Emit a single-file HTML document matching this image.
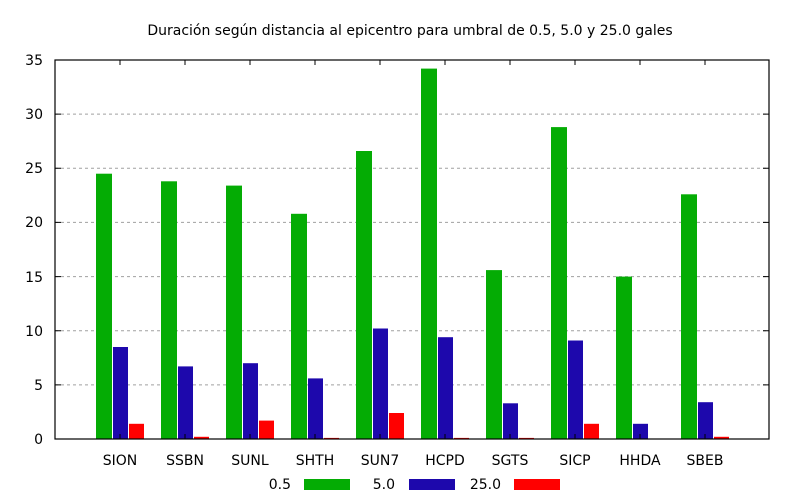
<!DOCTYPE html><html><head><style>body{margin:0;background:#fff}svg{display:block}text{font-family:"DejaVu Sans",sans-serif;font-size:14px;fill:#000}</style></head><body>
<svg width="800" height="500" xmlns="http://www.w3.org/2000/svg">
<text x="410" y="35" text-anchor="middle">Duración según distancia al epicentro para umbral de 0.5, 5.0 y 25.0 gales</text>
<g stroke="#a0a0a0" stroke-dasharray="3,3" stroke-width="1">
<line x1="55" x2="769" y1="384.9" y2="384.9"/><line x1="55" x2="769" y1="330.7" y2="330.7"/><line x1="55" x2="769" y1="276.6" y2="276.6"/><line x1="55" x2="769" y1="222.4" y2="222.4"/><line x1="55" x2="769" y1="168.3" y2="168.3"/><line x1="55" x2="769" y1="114.1" y2="114.1"/>
</g>
<g text-anchor="end">
<text x="43" y="444">0</text><text x="43" y="390">5</text><text x="43" y="336">10</text><text x="43" y="282">15</text><text x="43" y="227">20</text><text x="43" y="173">25</text><text x="43" y="119">30</text><text x="43" y="65">35</text>
</g>
<g fill="#04ac04">
<rect x="96" y="173.7" width="16" height="265.3"/><rect x="161" y="181.3" width="16" height="257.7"/><rect x="226" y="185.6" width="16" height="253.4"/><rect x="291" y="213.8" width="16" height="225.2"/><rect x="356" y="151" width="16" height="288"/><rect x="421" y="68.6" width="16" height="370.4"/><rect x="486" y="270.1" width="16" height="168.9"/><rect x="551" y="127.1" width="16" height="311.9"/><rect x="616" y="276.6" width="16" height="162.4"/><rect x="681" y="194.3" width="16" height="244.7"/>
</g>
<g fill="#1d08ac">
<rect x="113" y="347" width="15" height="92"/><rect x="178" y="366.4" width="15" height="72.6"/><rect x="243" y="363.2" width="15" height="75.8"/><rect x="308" y="378.4" width="15" height="60.6"/><rect x="373" y="328.5" width="15" height="110.5"/><rect x="438" y="337.2" width="15" height="101.8"/><rect x="503" y="403.3" width="15" height="35.7"/><rect x="568" y="340.5" width="15" height="98.5"/><rect x="633" y="423.8" width="15" height="15.2"/><rect x="698" y="402.2" width="15" height="36.8"/>
</g>
<g fill="#ff0000">
<rect x="129" y="423.8" width="15" height="15.2"/><rect x="194" y="436.8" width="15" height="2.2"/><rect x="259" y="420.6" width="15" height="18.4"/><rect x="324" y="437.9" width="15" height="1.1"/><rect x="389" y="413" width="15" height="26"/><rect x="454" y="437.9" width="15" height="1.1"/><rect x="519" y="437.9" width="15" height="1.1"/><rect x="584" y="423.8" width="15" height="15.2"/><rect x="714" y="436.8" width="15" height="2.2"/>
</g>
<rect x="55" y="60" width="714" height="379" fill="none" stroke="#000" stroke-width="1.2"/>
<g stroke="#000" stroke-width="1">
<path d="M55 384.9h6M55 330.7h6M55 276.6h6M55 222.4h6M55 168.3h6M55 114.1h6M769 384.9h-6M769 330.7h-6M769 276.6h-6M769 222.4h-6M769 168.3h-6M769 114.1h-6"/>
<path d="M120 439v-5M185 439v-5M250 439v-5M315 439v-5M380 439v-5M445 439v-5M510 439v-5M575 439v-5M640 439v-5M705 439v-5M120 60v5M185 60v5M250 60v5M315 60v5M380 60v5M445 60v5M510 60v5M575 60v5M640 60v5M705 60v5"/>
</g>
<g text-anchor="middle">
<text x="120" y="465">SION</text><text x="185" y="465">SSBN</text><text x="250" y="465">SUNL</text><text x="315" y="465">SHTH</text><text x="380" y="465">SUN7</text><text x="445" y="465">HCPD</text><text x="510" y="465">SGTS</text><text x="575" y="465">SICP</text><text x="640" y="465">HHDA</text><text x="705" y="465">SBEB</text>
</g>
<g text-anchor="end">
<text x="291" y="489">0.5</text><text x="395" y="489">5.0</text><text x="501" y="489">25.0</text>
</g>
<rect x="304" y="479" width="46" height="11" fill="#04ac04"/><rect x="409" y="479" width="46" height="11" fill="#1d08ac"/><rect x="514" y="479" width="46" height="11" fill="#ff0000"/>
</svg></body></html>
